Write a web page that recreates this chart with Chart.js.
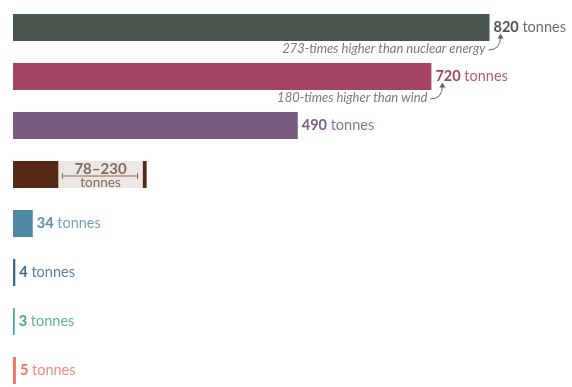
<!DOCTYPE html>
<html>
<head>
<meta charset="utf-8">
<script src="https://cdn.jsdelivr.net/npm/chart.js@4"></script>
<style>
  html, body { margin: 0; padding: 0; background: #fff; overflow: hidden; }
  #wrap { width: 572px; height: 395px; position: relative; }
</style>
</head>
<body>
<div id="wrap"><canvas id="ChartBarEnergy"></canvas></div>
<script>
// tonnes of CO2 per GWh
const categories = ['Coal', 'Oil', 'Gas', 'Biomass', 'Hydropower', 'Wind', 'Nuclear', 'Solar'];
const baseValues = [820, 720, 490, 78, 34, 4, 3, 5];
const rangeValues = [0, 0, 0, 145, 0, 0, 0, 0];   // biomass 78 -> 223
const capValues = [0, 0, 0, 7, 0, 0, 0, 0];       // biomass up to 230
const biomassRange = [78, 230];
const barColors = ['#4a564c', '#a44462', '#795a80', '#552915', '#4f88a4', '#3d6a8c', '#3fae99', '#f07563'];
const labelColors = ['#4a564c', '#a44462', '#795a80', '#7d6b62', '#5a90ad', '#3d6a8c', '#3fa893', '#f07563'];
const notes = { 0: '273-times higher than nuclear energy', 1: '180-times higher than wind' };

const labelPlugin = {
    id: 'barLabels',
    afterDatasetsDraw: function(chart) {
        const ctx = chart.ctx;
        const xs = chart.scales.x;
        const meta = chart.getDatasetMeta(0);
        ctx.save();
        ctx.textBaseline = 'middle';
        meta.data.forEach(function(bar, i) {
            const y = bar.y;
            if (i === 3) {
                // range label inside the light segment
                const x1 = xs.getPixelForValue(biomassRange[0]);
                const x2 = xs.getPixelForValue(biomassRange[1]);
                const cx = (x1 + x2) / 2 - 2;
                ctx.fillStyle = labelColors[i];
                ctx.strokeStyle = labelColors[i];
                ctx.textAlign = 'center';
                ctx.font = 'bold 15px Lato';
                ctx.fillText(biomassRange[0] + '\u2013' + biomassRange[1], cx, y - 5);
                ctx.font = '13.5px Lato';
                ctx.fillText('tonnes', cx, y + 8);
                ctx.lineWidth = 1;
                ctx.beginPath();
                ctx.moveTo(x1 + 4, y + 1.5); ctx.lineTo(x2 - 9, y + 1.5);
                ctx.moveTo(x1 + 4, y - 1.5); ctx.lineTo(x1 + 4, y + 4.5);
                ctx.moveTo(x2 - 9, y - 1.5); ctx.lineTo(x2 - 9, y + 4.5);
                ctx.stroke();
                return;
            }
            const x = bar.x + 4;
            ctx.textAlign = 'left';
            ctx.font = 'bold 14.5px Lato';
            ctx.fillStyle = labelColors[i];
            const num = String(baseValues[i]);
            ctx.fillText(num, x, y);
            const w = ctx.measureText(num).width;
            ctx.font = '14.5px Lato';
            ctx.globalAlpha = 0.85;
            ctx.fillText(' tonnes', x + w, y);
            ctx.globalAlpha = 1;

            if (notes[i]) {
                const ty = bar.y + bar.height / 2 + 8;
                ctx.font = 'italic 13px Lato';
                ctx.fillStyle = '#7a7a7a';
                ctx.textAlign = 'right';
                ctx.fillText(notes[i], bar.x - 4, ty);
                // curved arrow
                const sx = bar.x - 1, sy = ty + 1;
                const ex = bar.x + 11, ey = y + 9;
                ctx.strokeStyle = '#666';
                ctx.fillStyle = '#666';
                ctx.lineWidth = 1;
                ctx.beginPath();
                ctx.moveTo(sx, sy);
                ctx.quadraticCurveTo(ex, sy, ex, ey);
                ctx.stroke();
                ctx.beginPath();
                ctx.moveTo(ex, ey - 3);
                ctx.lineTo(ex - 3, ey + 2);
                ctx.lineTo(ex + 3, ey + 2);
                ctx.closePath();
                ctx.fill();
            }
        });
        ctx.restore();
    }
};

const ctx = document.getElementById('ChartBarEnergy').getContext('2d');
const myChart = new Chart(ctx, {
    type: 'bar',
    data: {
        labels: categories,
        datasets: [{
            data: baseValues,
            backgroundColor: barColors,
            borderColor: barColors,
            borderWidth: 0
        }, {
            data: rangeValues,
            backgroundColor: '#ede7e4'
        }, {
            data: capValues,
            backgroundColor: '#552915'
        }]
    },
    options: {
        indexAxis: 'y',
        responsive: true,
        maintainAspectRatio: false,
        animation: false,
        layout: { padding: { left: 13, right: 36, top: 3, bottom: 0 } },
        datasets: { bar: { categoryPercentage: 1, barPercentage: 0.55 } },
        plugins: { legend: { display: false }, tooltip: { enabled: false } },
        scales: {
            x: { stacked: true, min: 0, max: 900, display: false },
            y: { stacked: true, display: false }
        }
    },
    plugins: [labelPlugin]
});
</script>
</body>
</html>
